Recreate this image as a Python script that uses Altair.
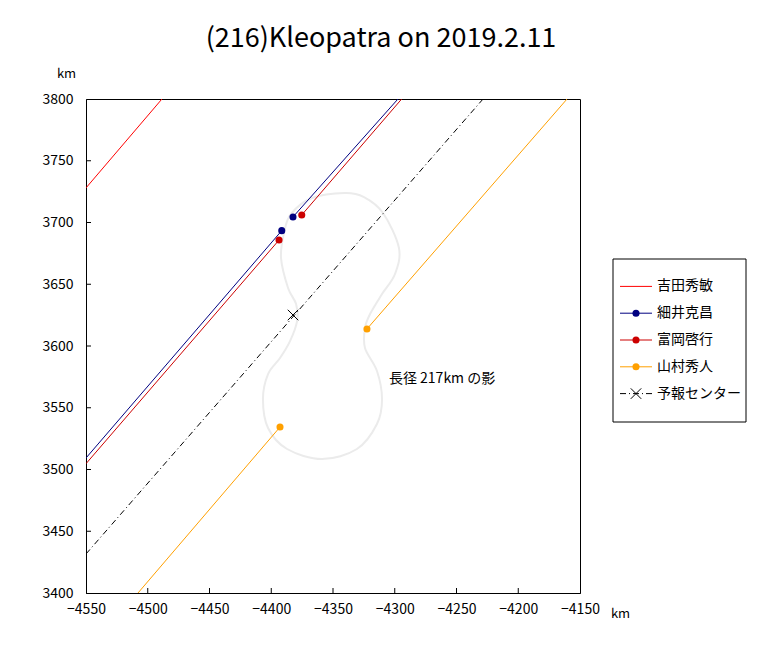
import altair as alt
import pandas as pd

FONT = "Noto Sans CJK JP"
TITLE = "(216)Kleopatra on 2019.2.11"
X_DOMAIN = [-4550, -4150]
Y_DOMAIN = [3400, 3800]
X_TICKS = [-4550, -4500, -4450, -4400, -4350, -4300, -4250, -4200, -4150]
Y_TICKS = [3400, 3450, 3500, 3550, 3600, 3650, 3700, 3750, 3800]

names = ["吉田秀敏", "細井克昌", "富岡啓行", "山村秀人", "予報センター"]
colors = ["#ff0000", "#000080", "#cc0000", "#ffa000", "#000000"]

# observer chord segments (km)
seg_observer = ["吉田秀敏", "細井克昌", "細井克昌", "富岡啓行", "富岡啓行", "山村秀人", "山村秀人"]
seg_x0 = [-4550.0, -4550.0, -4382.4, -4550.0, -4375.3, -4507.9, -4322.5]
seg_y0 = [3728.0, 3509.3, 3704.5, 3504.7, 3706.1, 3400.0, 3613.8]
seg_x1 = [-4488.5, -4391.5, -4297.4, -4393.7, -4294.4, -4392.9, -4160.5]
seg_y1 = [3800.0, 3693.4, 3800.0, 3685.8, 3800.0, 3534.4, 3800.0]

# disappearance / reappearance points
dot_observer = ["細井克昌", "細井克昌", "富岡啓行", "富岡啓行", "山村秀人", "山村秀人"]
dot_x = [-4391.5, -4382.4, -4393.7, -4375.3, -4392.9, -4322.5]
dot_y = [3693.4, 3704.5, 3685.8, 3706.1, 3534.4, 3613.8]

# predicted center line and center
center_x = [-4550.0, -4228.5]
center_y = [3431.6, 3800.0]
center_pt_x = [-4382.4]
center_pt_y = [3625.1]

# shadow outline (217 km)
shadow_x = [-4340.3, -4324.9, -4309.5, -4296.6, -4299.8, -4310.3, -4320.0, -4324.1,
            -4324.1, -4314.4, -4310.3, -4314.4, -4330.6, -4358.9, -4387.2, -4402.6,
            -4406.7, -4402.6, -4392.9, -4384.8, -4379.1, -4379.9, -4386.4, -4392.1,
            -4389.7, -4384.0, -4367.0]
shadow_y = [3723.9, 3720.6, 3707.7, 3679.4, 3658.3, 3642.1, 3625.9, 3614.6,
            3598.4, 3579.8, 3557.1, 3536.8, 3516.6, 3508.5, 3516.6, 3533.6,
            3557.1, 3577.3, 3590.3, 3604.0, 3620.2, 3634.0, 3647.0, 3671.3,
            3691.5, 3706.9, 3719.8]

note_text = ["長径 217km の影"]
note_x = [-4304.7]
note_y = [3573.3]

W = H = 494

rows = []
for i, (o, a, b, c, d) in enumerate(zip(seg_observer, seg_x0, seg_y0, seg_x1, seg_y1)):
    rows.append({"observer": o, "seg": i, "x": a, "y": b})
    rows.append({"observer": o, "seg": i, "x": c, "y": d})
seg_df = pd.DataFrame(rows)
dot_df = pd.DataFrame({"observer": dot_observer, "x": dot_x, "y": dot_y})
center_df = pd.DataFrame({"x": center_x, "y": center_y})
cpt_df = pd.DataFrame({"x": center_pt_x, "y": center_pt_y})
shadow_df = pd.DataFrame({"x": shadow_x, "y": shadow_y, "i": list(range(len(shadow_x)))})
note_df = pd.DataFrame({"t": note_text, "x": note_x, "y": note_y})
xt_df = pd.DataFrame({"x": X_TICKS[1:-1]})
yt_df = pd.DataFrame({"y": Y_TICKS[1:-1]})
leg_df = pd.DataFrame({"name": names})

xs = alt.Scale(domain=X_DOMAIN, nice=False, zero=False)
ys = alt.Scale(domain=Y_DOMAIN, nice=False, zero=False)
cs = alt.Scale(domain=names, range=colors)

x_axis = alt.Axis(values=X_TICKS, format="d", title="km", titleAngle=0, titleX=534, titleY=20,
                  titleAlign="center", titleBaseline="middle", grid=False, tickSize=0,
                  labelPadding=9, labelFontSize=14, labelFont=FONT, titleFont=FONT,
                  titleFontSize=13, titleFontWeight="normal", labelColor="black",
                  titleColor="black", domainColor="black", labelFlush=False)
y_axis = alt.Axis(values=Y_TICKS, format="d", title="km", titleAngle=0, titleX=-20, titleY=-26,
                  titleAlign="center", titleBaseline="middle", grid=False, tickSize=0,
                  labelPadding=13, labelFontSize=14, labelFont=FONT, titleFont=FONT,
                  titleFontSize=13, titleFontWeight="normal", labelColor="black",
                  titleColor="black", domainColor="black", labelFlush=False)

X = alt.X("x:Q", scale=xs, axis=x_axis)
Y = alt.Y("y:Q", scale=ys, axis=y_axis)

centerline = alt.Chart(center_df).mark_line(strokeDash=[6, 3, 1, 3], color="black",
                                             strokeWidth=1, clip=True).encode(x=X, y=Y)

shadow = alt.Chart(shadow_df).mark_line(interpolate="cardinal-closed", color="#ebebeb",
                                        strokeWidth=2).encode(x=X, y=Y, order="i:Q")

segs = alt.Chart(seg_df).mark_line(strokeWidth=1, clip=True).encode(
    x=X, y=Y, detail="seg:N",
    color=alt.Color("observer:N", scale=cs, legend=None))

dots = alt.Chart(dot_df).mark_circle(size=50, opacity=1).encode(
    x=X, y=Y, color=alt.Color("observer:N", scale=cs, legend=None))

cross = alt.Chart(cpt_df).mark_point(shape="M-1,-1L1,1M-1,1L1,-1", size=110, filled=False,
                                     color="black", strokeWidth=1, opacity=1).encode(x=X, y=Y)

note = alt.Chart(note_df).mark_text(align="left", baseline="middle", fontSize=14,
                                    font=FONT, color="black").encode(x=X, y=Y, text="t:N")

xticks = alt.Chart(xt_df).mark_rule(color="black", strokeWidth=1).encode(
    x=X, y=alt.value(H), y2=alt.value(H - 5))
yticks = alt.Chart(yt_df).mark_rule(color="black", strokeWidth=1).encode(
    y=Y, x=alt.value(0), x2=alt.value(5))

main = alt.layer(shadow, centerline, segs, dots, cross, note, xticks, yticks)

# legend
leg_y = alt.Y("name:N", scale=alt.Scale(domain=names, range=[174, 308], padding=0), axis=None)
leg_color = alt.Color("name:N", scale=cs, legend=None)
leg_box = alt.Chart(pd.DataFrame({"a": [0]})).mark_rect(fill="white", stroke="black",
                                                         strokeWidth=1).encode(
    x=alt.value(527), x2=alt.value(660), y=alt.value(160), y2=alt.value(323))
leg_solid = alt.Chart(leg_df).transform_filter(
    alt.FieldOneOfPredicate(field="name", oneOf=names[:4])).mark_rule(strokeWidth=1).encode(
    y=leg_y, x=alt.value(534), x2=alt.value(566), color=leg_color)
leg_dash = alt.Chart(leg_df).transform_filter(
    alt.FieldEqualPredicate(field="name", equal=names[4])).mark_rule(
    strokeWidth=1, strokeDash=[6, 3, 1, 3]).encode(
    y=leg_y, x=alt.value(534), x2=alt.value(566), color=leg_color)
leg_dots = alt.Chart(leg_df).transform_filter(
    alt.FieldOneOfPredicate(field="name", oneOf=names[1:4])).mark_circle(
    size=50, opacity=1).encode(y=leg_y, x=alt.value(550), color=leg_color)
leg_cross = alt.Chart(leg_df).transform_filter(
    alt.FieldEqualPredicate(field="name", equal=names[4])).mark_point(
    shape="M-1,-1L1,1M-1,1L1,-1", size=110, filled=False, strokeWidth=1, opacity=1).encode(
    y=leg_y, x=alt.value(550), color=leg_color)
leg_text = alt.Chart(leg_df).mark_text(align="left", baseline="middle", fontSize=14,
                                       font=FONT, color="black").encode(
    y=leg_y, x=alt.value(571), text="name:N")

legend = alt.layer(leg_box, leg_solid, leg_dash, leg_dots, leg_cross, leg_text)

chart = alt.layer(main, legend).resolve_scale(y="independent").properties(
    width=W, height=H,
    title=alt.TitleParams(TITLE, fontSize=27, font=FONT, fontWeight="normal",
                          anchor="middle", color="black", offset=14, dx=48),
    padding={"left": 33, "top": 17, "right": 5, "bottom": 5},
).configure(background="white").configure_view(stroke="black", strokeWidth=1)

chart.save("out.html", embed_options={"renderer": "svg", "actions": False})
